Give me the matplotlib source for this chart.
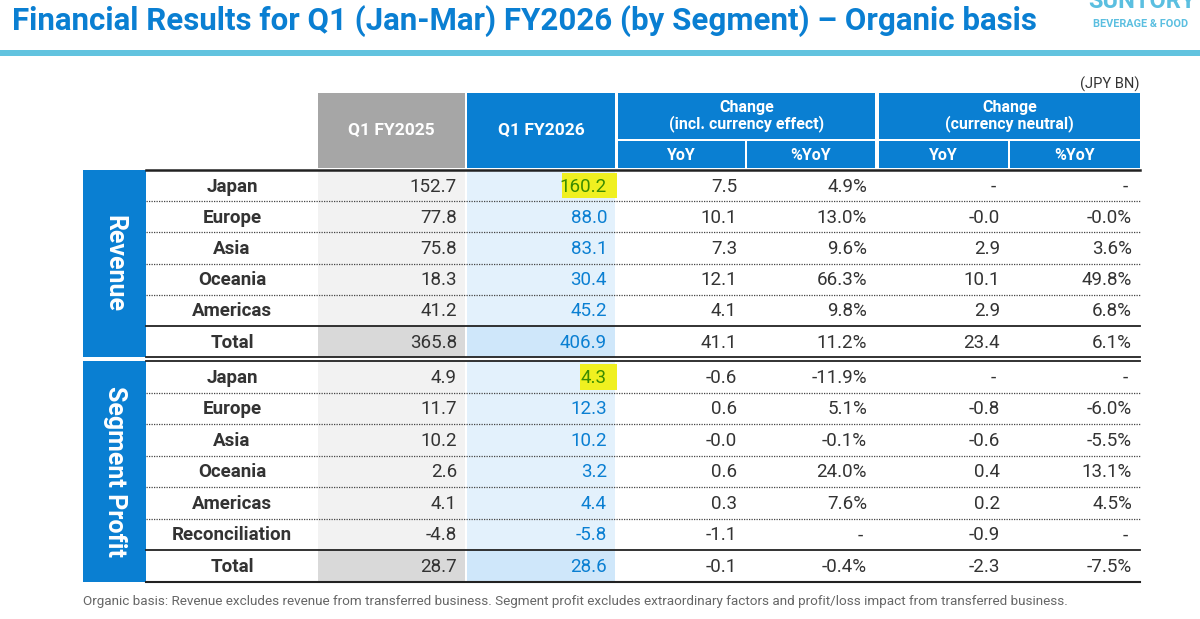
import matplotlib
matplotlib.use("Agg")
import matplotlib.pyplot as plt
from matplotlib.patches import Rectangle

# table data (JPY BN)
rev_regions = ["Japan", "Europe", "Asia", "Oceania", "Americas", "Total"]
rev_fy2025 = [152.7, 77.8, 75.8, 18.3, 41.2, 365.8]
rev_fy2026 = [160.2, 88.0, 83.1, 30.4, 45.2, 406.9]
rev_yoy = [7.5, 10.1, 7.3, 12.1, 4.1, 41.1]
rev_pct = [4.9, 13.0, 9.6, 66.3, 9.8, 11.2]
rev_cn_yoy = [None, -0.0, 2.9, 10.1, 2.9, 23.4]
rev_cn_pct = [None, -0.0, 3.6, 49.8, 6.8, 6.1]

sp_regions = ["Japan", "Europe", "Asia", "Oceania", "Americas", "Reconciliation", "Total"]
sp_fy2025 = [4.9, 11.7, 10.2, 2.6, 4.1, -4.8, 28.7]
sp_fy2026 = [4.3, 12.3, 10.2, 3.2, 4.4, -5.8, 28.6]
sp_yoy = [-0.6, 0.6, -0.0, 0.6, 0.3, -1.1, -0.1]
sp_pct = [-11.9, 5.1, -0.1, 24.0, 7.6, None, -0.4]
sp_cn_yoy = [None, -0.8, -0.6, 0.4, 0.2, -0.9, -2.3]
sp_cn_pct = [None, -6.0, -5.5, 13.1, 4.5, None, -7.5]

highlight_cells = [("Revenue", "Japan"), ("Segment Profit", "Japan")]

BLUE = "#0a7fd2"
GRAY_HDR = "#a6a6a6"
TXT = "#333333"
FONT = "Roboto"

plt.rcParams["font.family"] = [FONT, "DejaVu Sans"]

fig = plt.figure(figsize=(12, 6.19), dpi=100)
ax = fig.add_axes([0, 0, 1, 1])
ax.set_xlim(0, 1200)
ax.set_ylim(619, 0)
ax.axis("off")

# title + logo + band
ax.text(12, 21, "Financial Results for Q1 (Jan-Mar) FY2026 (by Segment) \u2013 Organic basis",
        fontsize=22.5, fontweight="bold", color=BLUE, va="center", ha="left")
ax.text(1142, 1, "SUNTORY", fontsize=17, fontweight="bold", color="#5bbfe0",
        va="center", ha="center")
ax.text(1141, 24, "BEVERAGE & FOOD", fontsize=7.8, fontweight="bold", color="#5bbfe0",
        va="center", ha="center")
ax.add_patch(Rectangle((0, 50), 1200, 6, color="#62c3df", lw=0))
ax.text(1140, 84, "(JPY BN)", fontsize=10.5, color=TXT, ha="right", va="center")

# column geometry
cols = [(318, 465), (467, 615), (618, 745), (747, 875), (879, 1008), (1010, 1140)]
lab_x0, lab_x1 = 146, 318
side_x0, side_x1 = 83, 146
hdr_top, hdr_mid, hdr_bot = 93, 141, 168

# header cells
ax.add_patch(Rectangle((cols[0][0], hdr_top), cols[0][1] - cols[0][0], hdr_bot - hdr_top,
                       color=GRAY_HDR, lw=0))
ax.add_patch(Rectangle((cols[1][0], hdr_top), cols[1][1] - cols[1][0], hdr_bot - hdr_top,
                       color=BLUE, lw=0))
ax.text(sum(cols[0]) / 2, 130, "Q1 FY2025", color="white", fontsize=12.5, fontweight="bold",
        ha="center", va="center")
ax.text(sum(cols[1]) / 2, 130, "Q1 FY2026", color="white", fontsize=12.5, fontweight="bold",
        ha="center", va="center")
groups = [("Change\n(incl. currency effect)", cols[2][0], cols[3][1]),
          ("Change\n(currency neutral)", cols[4][0], cols[5][1])]
for label, gx0, gx1 in groups:
    ax.add_patch(Rectangle((gx0, hdr_top), gx1 - gx0, hdr_mid - 2 - hdr_top, color=BLUE, lw=0))
    ax.text((gx0 + gx1) / 2, 116, label, color="white", fontsize=11.5, fontweight="bold",
            ha="center", va="center", linespacing=1.0)
for i, sub in zip(range(2, 6), ["YoY", "%YoY", "YoY", "%YoY"]):
    ax.add_patch(Rectangle((cols[i][0], hdr_mid), cols[i][1] - cols[i][0], hdr_bot - hdr_mid,
                           color=BLUE, lw=0))
    ax.text(sum(cols[i]) / 2, (hdr_mid + hdr_bot) / 2 + 1, sub, color="white", fontsize=11.5,
            fontweight="bold", ha="center", va="center")


def fmt_num(v):
    return "-" if v is None else f"{v:.1f}"


def fmt_pct(v):
    return "-" if v is None else f"{v:.1f}%"


def draw_block(name, top, rh, regions, series):
    n = len(regions)
    bottom = top + n * rh
    ax.add_patch(Rectangle((side_x0, top), side_x1 - side_x0, bottom - top, color=BLUE, lw=0))
    ax.text((side_x0 + side_x1) / 2, (top + bottom) / 2, name, rotation=-90, color="white",
            fontsize=18, fontweight="bold", ha="center", va="center")
    for r, reg in enumerate(regions):
        y0 = top + r * rh
        yc = y0 + rh / 2
        total = reg == "Total"
        ax.add_patch(Rectangle((cols[0][0], y0), cols[0][1] - cols[0][0], rh,
                               color="#d9d9d9" if total else "#f2f2f2", lw=0))
        ax.add_patch(Rectangle((cols[1][0], y0), cols[1][1] - cols[1][0], rh,
                               color="#cfe7fa" if total else "#e3f1fc", lw=0))
        ax.text((lab_x0 + lab_x1) / 2, yc + 1, reg, fontsize=13.5, color=TXT,
                fontweight="semibold", ha="center", va="center")
        for c, (vals, f) in enumerate(zip(series, [fmt_num, fmt_num, fmt_num, fmt_pct,
                                                   fmt_num, fmt_pct])):
            s = f(vals[r])
            color = TXT
            if c == 1:
                color = BLUE
                if (name, reg) in highlight_cells:
                    w = 9 * len(s) + 10
                    ax.add_patch(Rectangle((cols[1][1] + 2 - w, y0 + 3), w, rh - 6,
                                           color="#f0f020", lw=0))
                    color = "#3b8c00"
            xr = cols[c][1] - 8
            if s == "-":
                xr = cols[c][1] - 12
            ax.text(xr, yc + 1, s, fontsize=13.5, color=color, ha="right", va="center")
        if r < n - 1:
            yl = y0 + rh
            if regions[r + 1] == "Total":
                ax.plot([lab_x0, cols[5][1]], [yl, yl], color="#222222", lw=1.3)
            else:
                ax.plot([lab_x0, cols[5][1]], [yl, yl], color="#444444", lw=0.9,
                        linestyle=(0, (1, 1)))
    return bottom


rev_top = 170
rev_bot = draw_block("Revenue", rev_top, 31.2, rev_regions,
                     [rev_fy2025, rev_fy2026, rev_yoy, rev_pct, rev_cn_yoy, rev_cn_pct])
sp_top = rev_bot + 4
sp_bot = draw_block("Segment Profit", sp_top, 31.5, sp_regions,
                    [sp_fy2025, sp_fy2026, sp_yoy, sp_pct, sp_cn_yoy, sp_cn_pct])

# border lines
ax.plot([lab_x0, cols[5][1]], [rev_top, rev_top], color="#222222", lw=1.8)
ax.plot([lab_x0, cols[5][1]], [rev_bot, rev_bot], color="#222222", lw=1.3)
ax.plot([lab_x0, cols[5][1]], [sp_top, sp_top], color="#222222", lw=1.3)
ax.plot([lab_x0, cols[5][1]], [sp_bot, sp_bot], color="#222222", lw=1.5)

ax.text(83, 601, "Organic basis: Revenue excludes revenue from transferred business. "
        "Segment profit excludes extraordinary factors and profit/loss impact from "
        "transferred business.", fontsize=9.7, color="#666666", ha="left", va="center")

fig.savefig("out.png", dpi=100)
